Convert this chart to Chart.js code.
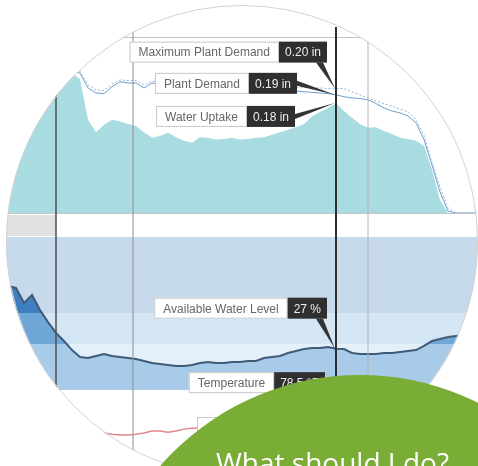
<!DOCTYPE html>
<html lang="en">
<head>
<meta charset="UTF-8" />
<title>Water Balance</title>
<script src="https://cdn.jsdelivr.net/npm/chart.js@4.4.1/dist/chart.umd.min.js"></script>
<style>
  html, body { margin: 0; padding: 0; background: #fff; }
  #stage { position: relative; width: 478px; height: 466px; overflow: hidden; }
  #clip { position: absolute; left: 0; top: 0; width: 478px; height: 466px; clip-path: circle(236px at 242px 241px); }
  #clip canvas { position: absolute; left: 0; top: 0; filter: blur(0.35px); }
  #ring { position: absolute; left: 6px; top: 5px; width: 472px; height: 472px; border-radius: 50%; border: 1px solid #d2d2d2; box-sizing: border-box; }
  #bubble { position: absolute; left: 95px; top: 375px; width: 530px; height: 530px; border-radius: 50%; background: #7aad35; }
  #ask { position: absolute; left: 216px; top: 443px; color: #fff; font: 28px "Open Sans", sans-serif; white-space: nowrap; }
</style>
</head>
<body>
<div id="stage">
  <div id="clip">
    <canvas id="demandChart" width="478" height="466"></canvas>
    <canvas id="levelChart" width="478" height="466"></canvas>
    <canvas id="tempChart" width="478" height="466"></canvas>
  </div>
  <div id="ring"></div>
  <div id="bubble"></div>
  <div id="ask">What should I do?</div>
</div>

<script>
  // time axis, hours from start of period
  const hours = [0, 2, 4, 6, 8, 10, 12, 14, 16, 18, 20, 22, 24, 26, 28, 30, 32, 34, 36, 38,
    40, 42, 44, 46, 48, 50, 52, 54, 56, 58, 60, 62, 64, 66, 68, 70, 72, 74, 76, 78,
    80, 82, 84, 86, 88, 90, 92, 94, 96, 98, 100, 102, 104, 106, 108, 110, 112, 114, 116, 118, 120];
  const markerHours = [14, 33.25, 84, 92];
  const cursorIndex = 42;

  // inches
  const maxPlantDemand = [0.235, 0.235, 0.235, 0.235, 0.235, 0.235, 0.235, 0.235, 0.235, 0.232,
    0.228, 0.206, 0.198, 0.197, 0.207, 0.214, 0.213, 0.213, 0.206, 0.212,
    0.210, 0.209, 0.208, 0.207, 0.208, 0.208, 0.207, 0.206, 0.206, 0.207,
    0.206, 0.205, 0.205, 0.205, 0.204, 0.203, 0.203, 0.202, 0.202, 0.201,
    0.201, 0.200, 0.200, 0.200, 0.195, 0.190, 0.185, 0.180, 0.176, 0.172,
    0.167, 0.163, 0.150, 0.125, 0.081, 0.042, 0.008, 0, 0, 0, 0];
  const plantDemand = [0.232, 0.232, 0.232, 0.232, 0.232, 0.232, 0.232, 0.232, 0.232, 0.228,
    0.225, 0.201, 0.193, 0.192, 0.203, 0.211, 0.209, 0.209, 0.201, 0.209,
    0.206, 0.204, 0.203, 0.202, 0.203, 0.204, 0.203, 0.201, 0.202, 0.203,
    0.202, 0.201, 0.200, 0.201, 0.199, 0.198, 0.197, 0.196, 0.195, 0.194,
    0.193, 0.192, 0.190, 0.187, 0.185, 0.184, 0.182, 0.176, 0.169, 0.164,
    0.161, 0.156, 0.145, 0.118, 0.077, 0.034, 0.003, 0, 0, 0, 0];
  const waterUptake = [0.225, 0.225, 0.225, 0.225, 0.225, 0.225, 0.225, 0.225, 0.225, 0.225,
    0.215, 0.150, 0.130, 0.142, 0.150, 0.147, 0.143, 0.140, 0.130, 0.121,
    0.124, 0.129, 0.122, 0.116, 0.113, 0.122, 0.121, 0.118, 0.119, 0.121,
    0.118, 0.119, 0.121, 0.122, 0.126, 0.130, 0.134, 0.138, 0.143, 0.155,
    0.163, 0.169, 0.177, 0.164, 0.153, 0.143, 0.137, 0.138, 0.132, 0.127,
    0.121, 0.119, 0.116, 0.108, 0.069, 0.021, 0, 0, 0, 0, 0];

  // percent of available water
  const waterLevel = [68.6, 68.0, 66.7, 56.9, 62.1, 52.3, 44.4, 37.3, 32.0, 26.1,
    21.6, 20.9, 22.2, 23.5, 22.2, 21.6, 20.9, 20.3, 19.0, 17.6,
    17.0, 16.3, 15.7, 15.7, 16.3, 17.6, 18.3, 17.6, 17.6, 18.3,
    18.3, 19.0, 19.0, 20.9, 21.6, 22.2, 24.2, 25.5, 26.8, 27.5,
    27.5, 28.1, 27.0, 26.8, 24.2, 23.5, 23.5, 23.5, 24.2, 24.2,
    24.8, 25.5, 26.1, 28.8, 32.0, 33.3, 34.6, 35.3, 35.9, 35.9, 35.9];
  const levelBands = [30, 50];

  // degrees F
  const temperature = [75.8, 75.9, 75.9, 76.0, 75.9, 75.8, 75.8, 75.7, 75.7, 75.6,
    75.6, 75.7, 75.7, 75.7, 75.3, 75.0, 75.0, 75.3, 75.7, 76.4,
    76.4, 76.0, 76.4, 77.1, 77.4, 77.5, 77.6, 77.6, 77.7, 77.8,
    77.8, 77.9, 77.9, 78.0, 78.0, 78.1, 78.2, 78.2, 78.3, 78.3,
    78.4, 78.4, 78.5, 78.5, 78.4, 78.3, 78.1, 77.9, 77.6, 77.3,
    77.0, 76.7, 76.4, 76.1, 75.8, 75.5, 75.3, 75.1, 75.0, 74.9, 74.8];

  const pts = (vals) => vals.map((v, i) => ({ x: hours[i], y: v }));

  const markerStyles = [
    { color: "#4f4f4f", width: 1.5 },
    { color: "#8e8e8e", width: 1 },
    { color: "#2e2e2e", width: 2 },
    { color: "#b4b4b4", width: 1 },
  ];

  function drawCallout(ctx, px, py, c) {
    ctx.font = '12px "Liberation Sans", Arial, sans-serif';
    const h = 21;
    const lw = ctx.measureText(c.label).width + 18;
    const vw = ctx.measureText(c.value).width + 12;
    const right = px + c.dx;
    const top = py + c.dy;
    const vx = right - vw;
    const lx = vx - lw;

    ctx.fillStyle = "#333";
    ctx.beginPath();
    if (c.tail === "down") {
      ctx.moveTo(right - 11, top + h);
      ctx.lineTo(right - 4, top + h);
    } else {
      ctx.moveTo(right, top + 8);
      ctx.lineTo(right, top + 13);
    }
    ctx.lineTo(px - 1, py);
    ctx.closePath();
    ctx.fill();

    ctx.fillStyle = "#fff";
    ctx.fillRect(lx, top, lw, h);
    ctx.strokeStyle = "#c8c8c8";
    ctx.lineWidth = 1;
    ctx.strokeRect(lx + 0.5, top + 0.5, lw - 1, h - 1);
    ctx.fillStyle = "#2f2f2f";
    ctx.fillRect(vx, top, vw, h);

    ctx.textBaseline = "middle";
    ctx.fillStyle = "#666";
    ctx.fillText(c.label, lx + 9, top + h / 2 + 1);
    ctx.fillStyle = "#eee";
    ctx.fillText(c.value, vx + 6, top + h / 2 + 1);
  }

  const panelPlugin = {
    id: "panel",
    beforeDatasetsDraw(chart, args, opts) {
      const { ctx, chartArea, scales } = chart;
      const y = scales.y;
      ctx.save();
      if (opts.bands) {
        const edges = [y.min, ...levelBands, y.max];
        for (let i = 0; i < edges.length - 1; i++) {
          const y0 = y.getPixelForValue(edges[i + 1]);
          const y1 = y.getPixelForValue(edges[i]);
          ctx.fillStyle = opts.bands[i];
          ctx.fillRect(chartArea.left, y0, chartArea.width, y1 - y0);
        }
      }
      if (opts.gapShade) {
        const xm = scales.x.getPixelForValue(markerHours[0]);
        ctx.fillStyle = "#e1e1e1";
        ctx.fillRect(0, chartArea.top - 22, xm, 21);
      }
      ctx.restore();
    },
    afterDatasetsDraw(chart, args, opts) {
      const { ctx, chartArea, scales } = chart;
      ctx.save();
      if (opts.frame) {
        ctx.strokeStyle = "#c4c4c4";
        ctx.lineWidth = 1;
        ctx.beginPath();
        ctx.moveTo(0, chartArea.top + 0.5);
        ctx.lineTo(chart.width, chartArea.top + 0.5);
        ctx.moveTo(0, chartArea.bottom + 0.5);
        ctx.lineTo(chart.width, chartArea.bottom + 0.5);
        ctx.stroke();
      }
      markerHours.forEach((hr, i) => {
        const x = scales.x.getPixelForValue(hr);
        ctx.strokeStyle = markerStyles[i].color;
        ctx.lineWidth = markerStyles[i].width;
        ctx.beginPath();
        ctx.moveTo(x, opts.span[0]);
        ctx.lineTo(x, opts.span[1]);
        ctx.stroke();
      });
      if (opts.extraBox) {
        const b = opts.extraBox;
        ctx.fillStyle = "#fff";
        ctx.fillRect(b[0], b[1], b[2], b[3]);
        ctx.strokeStyle = "#c8c8c8";
        ctx.strokeRect(b[0] + 0.5, b[1] + 0.5, b[2] - 1, b[3] - 1);
      }
      (opts.callouts || []).forEach((c) => {
        const meta = chart.getDatasetMeta(c.dataset);
        const pt = meta.data[cursorIndex];
        drawCallout(ctx, pt.x, pt.y, c);
      });
      ctx.restore();
    },
  };

  function baseOptions(pad, yMin, yMax, panel) {
    return {
      responsive: false,
      animation: false,
      events: [],
      layout: { padding: { top: pad[0], bottom: pad[1], left: 0, right: 0 } },
      scales: {
        x: { type: "linear", min: 0, max: 119.5, display: false },
        y: { min: yMin, max: yMax, display: false },
      },
      elements: { point: { radius: 0 }, line: { tension: 0 } },
      plugins: { legend: { display: false }, tooltip: { enabled: false }, panel: panel },
    };
  }

  const inch = (v) => v.toFixed(2) + " in";

  new Chart(document.getElementById("demandChart"), {
    type: "line",
    data: {
      datasets: [
        { label: "Maximum Plant Demand", data: pts(maxPlantDemand), borderColor: "#8db7dc", borderWidth: 1, borderDash: [2, 2], fill: false },
        { label: "Plant Demand", data: pts(plantDemand), borderColor: "#6e9ec8", borderWidth: 1, fill: false },
        { label: "Water Uptake", data: pts(waterUptake), borderWidth: 0, borderColor: "rgba(0,0,0,0)", backgroundColor: "#a8dce0", fill: "origin" },
      ],
    },
    options: baseOptions([37, 253], 0, 0.283, {
      frame: true,
      span: [27, 213],
      callouts: [
        { dataset: 0, label: "Maximum Plant Demand", value: inch(maxPlantDemand[cursorIndex]), dx: -9, dy: -47, tail: "down" },
        { dataset: 1, label: "Plant Demand", value: inch(plantDemand[cursorIndex]), dx: -39, dy: -22, tail: "side" },
        { dataset: 2, label: "Water Uptake", value: inch(waterUptake[cursorIndex]), dx: -41, dy: 3, tail: "side" },
      ],
    }),
    plugins: [panelPlugin],
  });

  const levelFills = ["#a7cbe9", "#6ea6d8", "#3f7ebf"];

  new Chart(document.getElementById("levelChart"), {
    type: "line",
    data: {
      datasets: [
        {
          label: "Available Water Level",
          data: pts(waterLevel),
          borderColor: "#3e5b78",
          borderWidth: 2,
          fill: "origin",
          backgroundColor: (c) => {
            const { chart } = c;
            const area = chart.chartArea;
            if (!area) return levelFills[0];
            const y = chart.scales.y;
            const g = chart.ctx.createLinearGradient(0, area.bottom, 0, area.top);
            const a = (levelBands[0] - y.min) / (y.max - y.min);
            const b = (levelBands[1] - y.min) / (y.max - y.min);
            g.addColorStop(0, levelFills[0]);
            g.addColorStop(a, levelFills[0]);
            g.addColorStop(a, levelFills[1]);
            g.addColorStop(b, levelFills[1]);
            g.addColorStop(b, levelFills[2]);
            g.addColorStop(1, levelFills[2]);
            return g;
          },
        },
      ],
    },
    options: baseOptions([237, 76], 0, 100, {
      bands: ["#e4f0f9", "#d4e6f4", "#c6daec"],
      gapShade: true,
      span: [213, 390],
      callouts: [
        { dataset: 0, label: "Available Water Level", value: Math.round(waterLevel[cursorIndex]) + " %", dx: -9, dy: -51, tail: "down" },
      ],
    }),
    plugins: [panelPlugin],
  });

  new Chart(document.getElementById("tempChart"), {
    type: "line",
    data: {
      datasets: [
        { label: "Temperature", data: pts(temperature), borderColor: "#e3878d", borderWidth: 1.5, fill: false },
      ],
    },
    options: baseOptions([390, 0], 64, 91, {
      span: [390, 466],
      extraBox: [197, 417, 130, 17],
      callouts: [
        { dataset: 0, label: "Temperature", value: temperature[cursorIndex].toFixed(1) + " °F", dx: -11, dy: -53, tail: "down" },
      ],
    }),
    plugins: [panelPlugin],
  });
</script>
</body>
</html>
